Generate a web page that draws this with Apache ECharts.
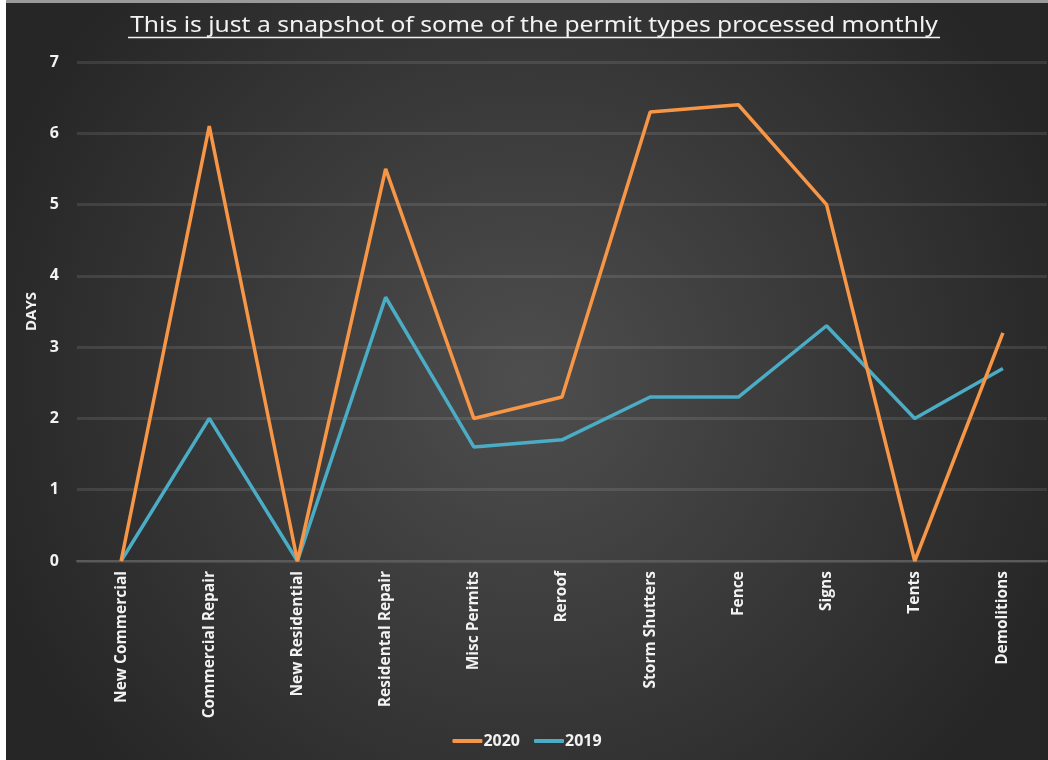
<!DOCTYPE html>
<html>
<head>
<meta charset="utf-8">
<script src="https://cdn.jsdelivr.net/npm/echarts@6/dist/echarts.min.js"></script>
<style>
html,body{margin:0;padding:0;background:#fff;}
#wrap{position:absolute;left:0;top:0;width:1048px;height:760px;background:#fff;}
#chart{position:absolute;left:6px;top:3px;width:1042px;height:757px;}
#topline{position:absolute;left:6px;top:0;width:1042px;height:3px;background:#9a9a9a;}
</style>
</head>
<body>
<div id="wrap"><div id="topline"></div><div id="chart"></div></div>
<script>
const titleText = 'This is just a snapshot of some of the permit types processed monthly';
const categories = ['New Commercial','Commercial Repair','New Residential','Residental Repair','Misc Permits','Reroof','Storm Shutters','Fence','Signs','Tents','Demolitions'];
const values2020 = [0, 6.1, 0, 5.5, 2.0, 2.3, 6.3, 6.4, 5.0, 0, 3.2];
const values2019 = [0, 2.0, 0, 3.7, 1.6, 1.7, 2.3, 2.3, 3.3, 2.0, 2.7];
const yTicks = [0,1,2,3,4,5,6,7];

const chart = echarts.init(document.getElementById('chart'), null, {renderer:'canvas'});
const font = 'Open Sans, Lato, sans-serif';
chart.setOption({
  backgroundColor: {
    type: 'radial', x: 0.5, y: 0.5, r: 0.75,
    colorStops: [{offset:0, color:'#4e4e4e'},{offset:1, color:'#262626'}]
  },
  graphic: [{
    type: 'text', x: 528, y: 12, scaleX: 1.12,
    style: {text: titleText, fill: '#f2f2f2', font: 'normal 22px "Noto Sans", "Open Sans", sans-serif', textAlign: 'center', textVerticalAlign: 'top'}
  },{
    type: 'line', shape: {x1: 122, y1: 34.5, x2: 934, y2: 34.5},
    style: {stroke: '#f2f2f2', lineWidth: 1.5}
  }],
  legend: {
    bottom: 6, left: 'center',
    itemWidth: 30, itemHeight: 4, itemGap: 14,
    icon: 'roundRect',
    textStyle: {color:'#f2f2f2', fontSize: 16, fontWeight: 'bold', fontFamily: font, padding:[0,0,0,-4]},
    data: ['2020','2019']
  },
  grid: {left: 71, right: 1, top: 59, bottom: 199},
  xAxis: {
    type: 'category', data: categories, boundaryGap: true,
    axisLine: {show: true, lineStyle: {color:'#5a5a5a', width: 2}},
    axisTick: {show: false},
    axisLabel: {rotate: 90, color:'#f2f2f2', fontSize: 15.5, fontWeight:'bold', fontFamily: font, margin: 10, interval: 0}
  },
  yAxis: {
    type: 'value', min: yTicks[0], max: yTicks[yTicks.length-1], interval: 1,
    name: 'DAYS', nameLocation: 'middle', nameGap: 33, nameRotate: 90,
    nameTextStyle: {color:'#f2f2f2', fontSize: 15, fontWeight:'bold', fontFamily: font},
    axisLine: {show:false}, axisTick: {show:false},
    axisLabel: {color:'#f2f2f2', fontSize: 16, fontWeight:'bold', fontFamily: font, margin: 18},
    splitLine: {lineStyle: {color:'rgba(255,255,255,0.1)', width: 3}}
  },
  series: [
    {name:'2020', type:'line', data: values2020, symbol:'none', lineStyle:{color:'#f79646', width:3.5}, itemStyle:{color:'#f79646'}, z:3},
    {name:'2019', type:'line', data: values2019, symbol:'none', lineStyle:{color:'#4bacc6', width:3.5}, itemStyle:{color:'#4bacc6'}, z:2}
  ]
});
</script>
</body>
</html>
